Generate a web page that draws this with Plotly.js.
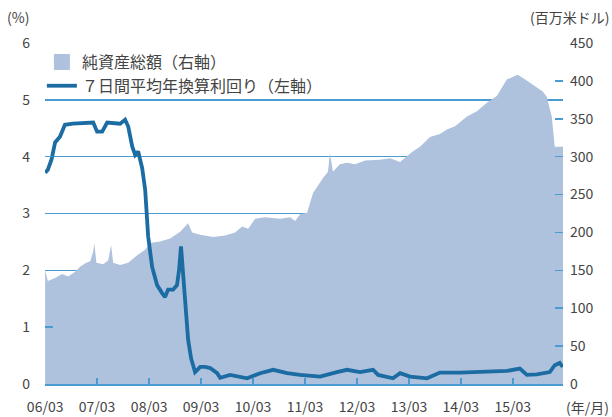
<!DOCTYPE html>
<html>
<head>
<meta charset="utf-8">
<script src="https://cdn.plot.ly/plotly-3.0.1.min.js"></script>
<style>html,body{margin:0;padding:0;background:#fff;}#chart{width:612px;height:417px;}</style>
</head>
<body>
<div id="chart"></div>
<script>
// 純資産総額 (百万米ドル, right axis)
const assetDates = ['2006-03-01','2006-03-20','2006-05-10','2006-06-28','2006-08-10','2006-09-28','2006-11-03','2006-12-15','2007-01-12','2007-02-02','2007-02-10','2007-02-24','2007-04-13','2007-05-18','2007-06-08','2007-06-22','2007-08-10','2007-10-06','2007-12-08','2008-02-02','2008-03-08','2008-05-17','2008-07-27','2008-10-05','2008-11-30','2008-12-28','2009-02-23','2009-05-25','2009-08-17','2009-10-26','2009-12-15','2010-01-26','2010-03-16','2010-05-25','2010-09-08','2010-11-17','2010-12-22','2011-01-26','2011-03-16','2011-04-27','2011-06-01','2011-07-06','2011-08-10','2011-08-24','2011-09-14','2011-09-28','2011-11-02','2011-12-22','2012-02-17','2012-04-27','2012-08-10','2012-10-20','2012-12-29','2013-02-23','2013-03-30','2013-05-18','2013-07-27','2013-10-05','2013-11-23','2014-01-19','2014-04-13','2014-06-22','2014-08-31','2014-11-09','2015-01-19','2015-03-01','2015-04-05','2015-05-25','2015-07-20','2015-09-28','2015-10-26','2015-11-30','2015-12-21','2016-02-17'];
const assets = [150,136,140,145,142,148,155,160,162,175,186,160,158,163,183,160,157,160,170,177,186,188,192,201,212,200,197,194,196,200,208,205,218,220,218,220,215,224,226,252,262,272,280,305,280,283,290,292,290,295,296,298,293,302,307,313,326,330,336,340,353,360,371,380,402,405,408,402,395,386,379,353,313,313];

// 7日間平均年換算利回り (%, left axis)
const yieldDates = ['2006-03-01','2006-03-20','2006-04-15','2006-05-10','2006-06-13','2006-07-18','2006-09-12','2007-01-12','2007-02-02','2007-03-01','2007-04-06','2007-05-11','2007-08-10','2007-09-14','2007-10-06','2007-11-03','2007-11-24','2007-12-15','2007-12-29','2008-01-12','2008-02-02','2008-02-23','2008-03-22','2008-04-26','2008-05-31','2008-06-21','2008-07-12','2008-08-16','2008-09-13','2008-09-27','2008-10-11','2008-10-25','2008-11-08','2008-11-30','2008-12-21','2009-01-18','2009-02-23','2009-03-30','2009-05-04','2009-06-22','2009-07-13','2009-09-21','2010-01-19','2010-04-20','2010-07-21','2010-10-27','2011-01-26','2011-06-15','2011-10-12','2011-12-22','2012-03-22','2012-06-22','2012-07-27','2012-11-09','2012-12-29','2013-03-09','2013-07-06','2013-10-05','2014-02-23','2015-01-19','2015-04-20','2015-06-08','2015-08-17','2015-11-16','2015-12-21','2016-01-25','2016-02-15'];
const yieldPct = [3.72,3.77,3.95,4.25,4.35,4.56,4.58,4.6,4.6,4.44,4.44,4.6,4.58,4.65,4.53,4.18,4.03,4.09,3.91,3.8,3.42,2.6,2.06,1.74,1.6,1.53,1.66,1.66,1.74,2.0,2.42,1.9,1.36,0.78,0.45,0.21,0.3,0.3,0.28,0.19,0.11,0.16,0.1,0.19,0.25,0.19,0.16,0.13,0.21,0.25,0.21,0.25,0.16,0.1,0.19,0.13,0.1,0.2,0.2,0.23,0.27,0.16,0.17,0.21,0.33,0.37,0.3];

const assetName = '純資産総額（右軸）';
const yieldName = '７日間平均年換算利回り（左軸）';

const AREA = '#aec1dd';
const LINE = '#1b6ca3';
const GRID = '#4a9bd1';
const FONT = '"Noto Sans CJK JP", "Noto Sans", sans-serif';

const traces = [
  {type:'scatter', x:[null], y:[null], mode:'markers', name:assetName,
   marker:{symbol:'square', size:16, color:AREA}, yaxis:'y', hoverinfo:'skip'},
  {type:'scatter', x:assetDates, y:assets, mode:'none', fill:'tozeroy',
   fillcolor:AREA, showlegend:false, yaxis:'y', name:assetName},
  {type:'scatter', x:yieldDates, y:yieldPct, mode:'lines', name:yieldName,
   line:{color:LINE, width:3.8}, yaxis:'y2'}
];

const layout = {
  width:612, height:417,
  margin:{l:45, r:49, t:43, b:33},
  paper_bgcolor:'#ffffff', plot_bgcolor:'#ffffff',
  font:{family:FONT, color:'#444', size:14},
  showlegend:true,
  legend:{x:-0.006, y:0.994, xanchor:'left', yanchor:'top', bgcolor:'rgba(0,0,0,0)',
          font:{size:16, color:'#444'}, tracegroupgap:0, itemwidth:30},
  xaxis:{type:'date', range:['2006-02-28','2016-02-17'], showgrid:false,
         showline:true, linecolor:GRID, linewidth:2, zeroline:false,
         ticks:'inside', ticklen:6, tickwidth:1.5, tickcolor:GRID,
         tick0:'2006-03-01', dtick:'M12', tickformat:'%y/%m',
         tickfont:{size:14, color:'#444'}, ticklabelstandoff:9},
  yaxis:{range:[0,450], side:'right', dtick:50, showgrid:false, zeroline:false,
         showline:false, ticks:'inside', ticklen:8, tickwidth:1.5, tickcolor:GRID,
         tickfont:{size:14, color:'#444'}, ticklabelstandoff:6},
  yaxis2:{range:[0,6], overlaying:'y', side:'left', dtick:1, showgrid:true,
          gridcolor:GRID, gridwidth:1.5, zeroline:false, showline:false,
          ticks:'inside', ticklen:8, tickwidth:1.5, tickcolor:GRID,
          tickfont:{size:14, color:'#444'}, ticklabelstandoff:14},
  annotations:[
    {text:'(%)', xref:'paper', yref:'paper', x:-0.052, y:1.076, xanchor:'center', yanchor:'middle', showarrow:false, font:{size:14, color:'#444'}},
    {text:'(百万米ドル)', xref:'paper', yref:'paper', x:1.092, y:1.076, xanchor:'right', yanchor:'middle', showarrow:false, font:{size:14, color:'#444'}},
    {text:'(年/月)', xref:'paper', yref:'paper', x:1.092, y:-0.068, xanchor:'right', yanchor:'middle', showarrow:false, font:{size:14, color:'#444'}}
  ]
};

Plotly.newPlot('chart', traces, layout, {staticPlot:true, displayModeBar:false});
</script>
</body>
</html>
